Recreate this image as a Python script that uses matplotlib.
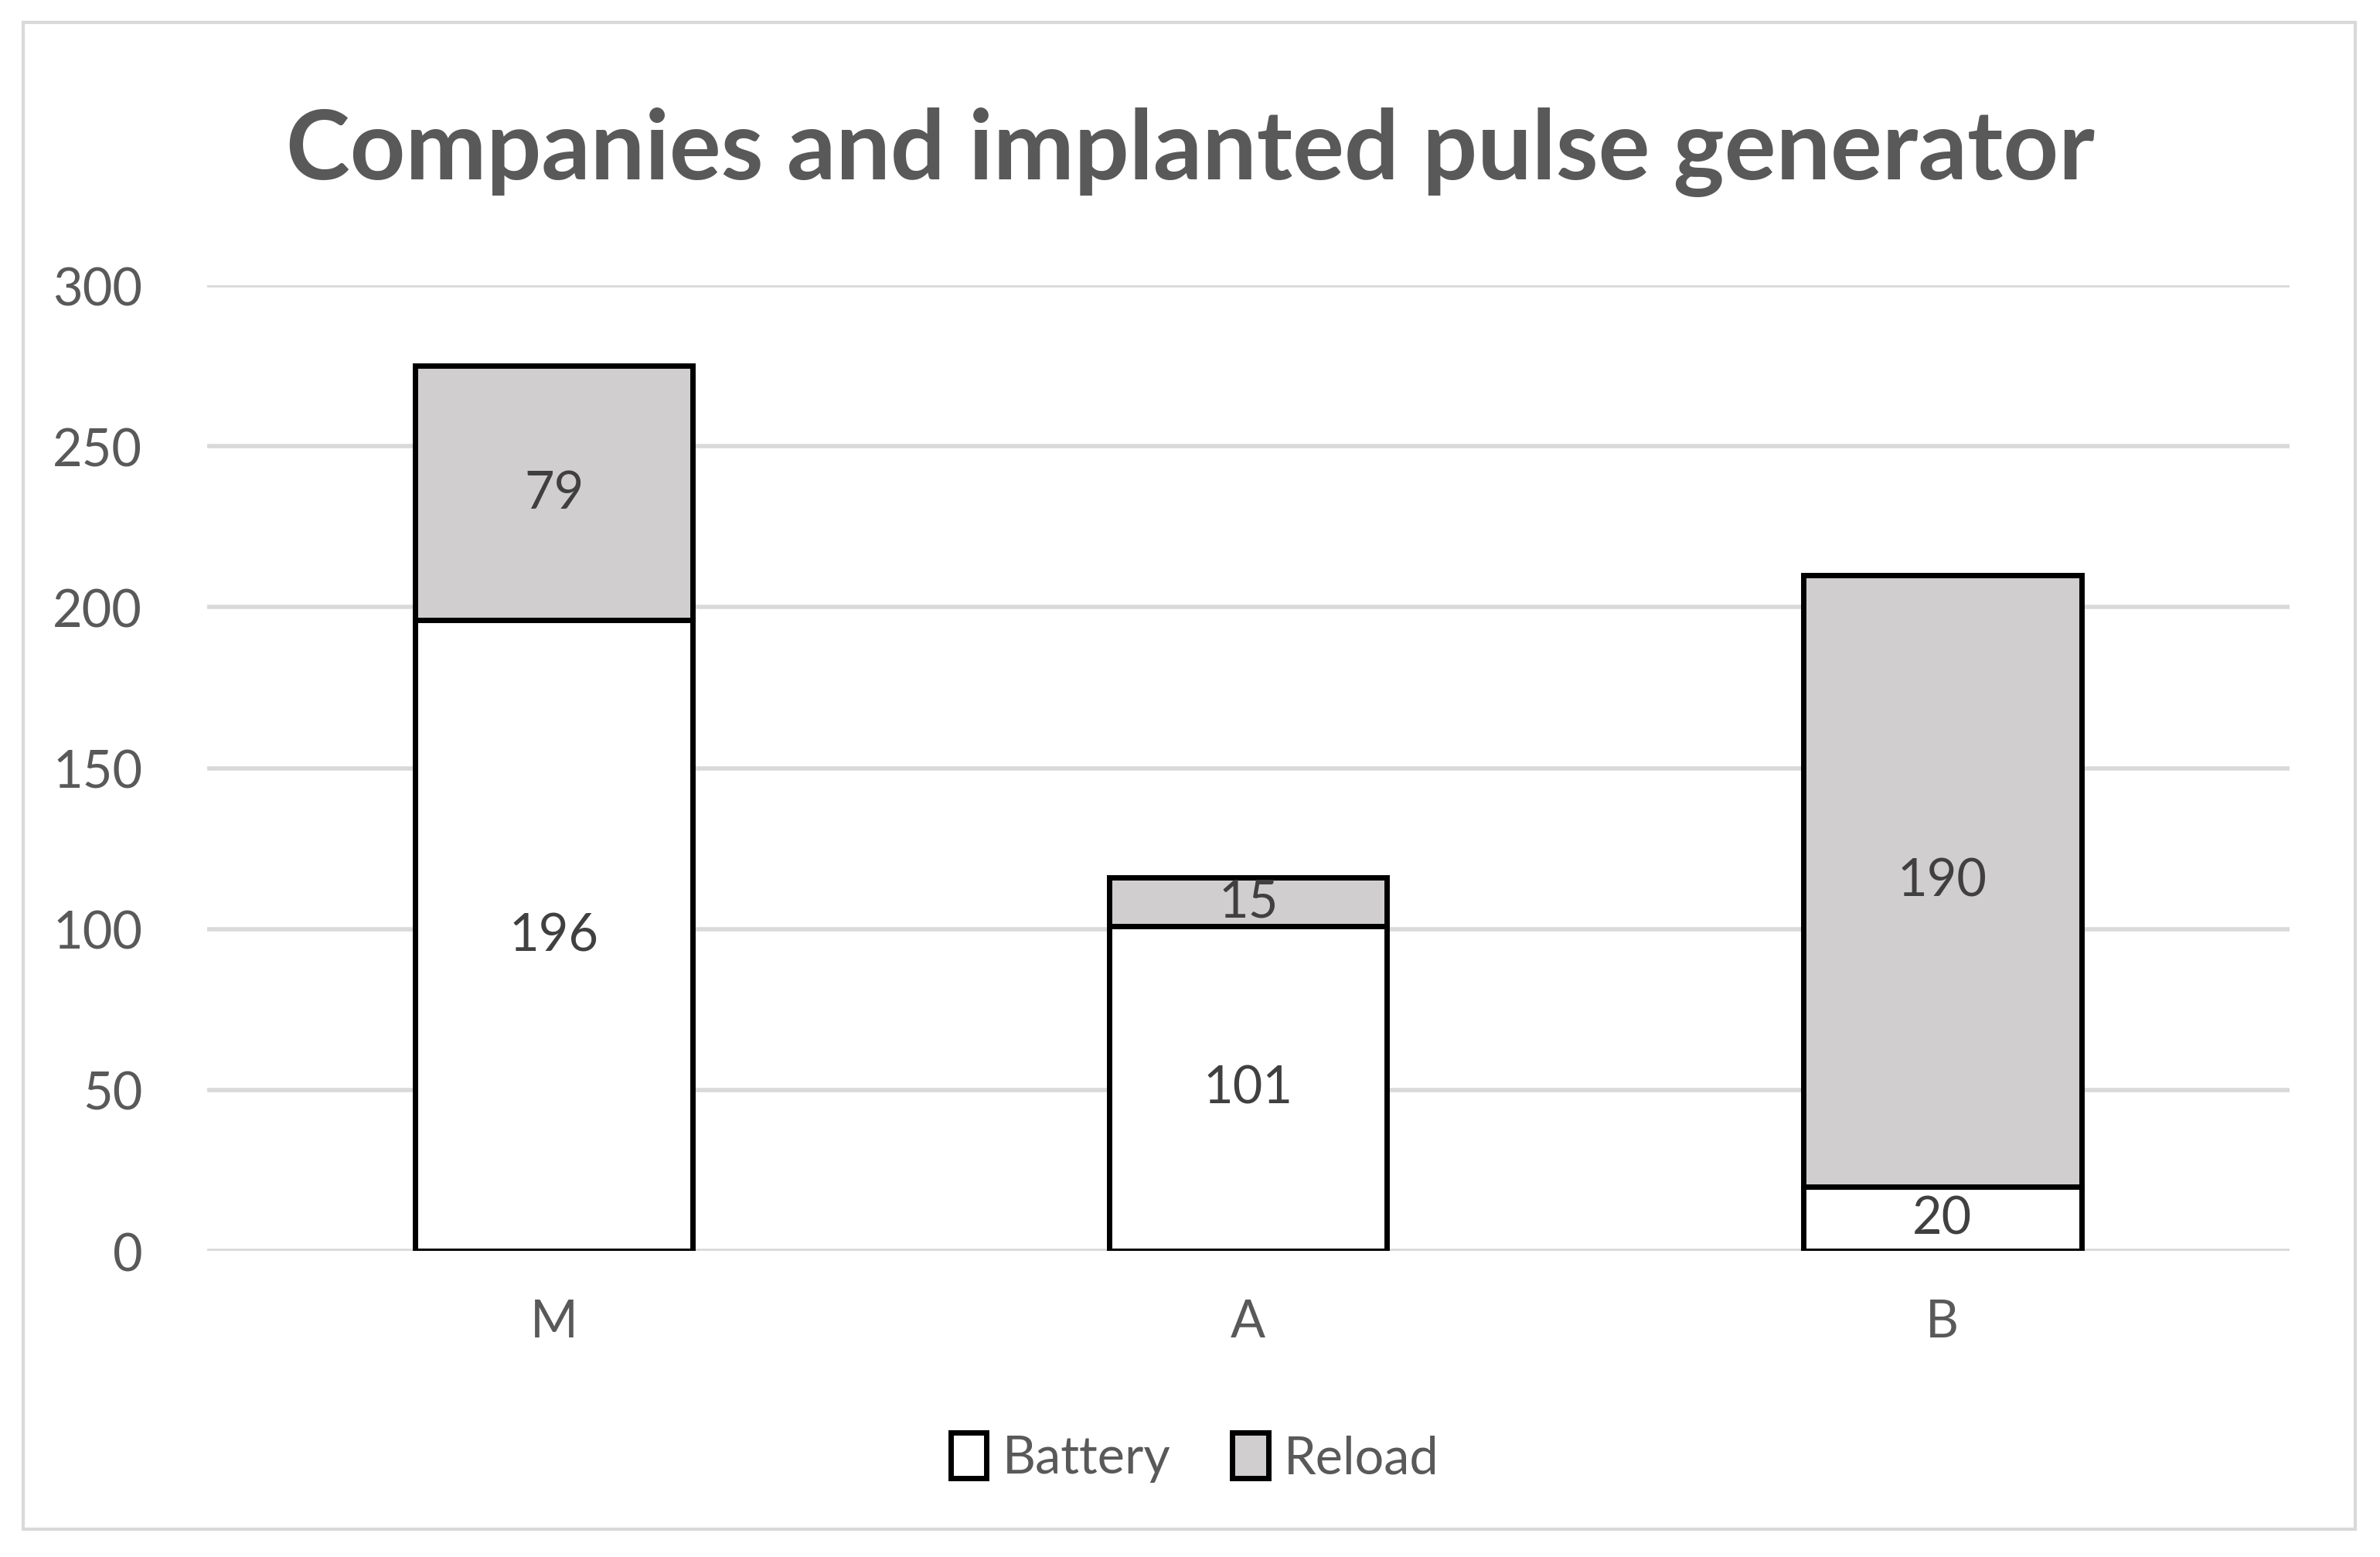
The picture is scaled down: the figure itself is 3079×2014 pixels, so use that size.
import matplotlib.pyplot as plt
from matplotlib.patches import Rectangle

plt.rcParams['font.family'] = ['Lato', 'DejaVu Sans']

companies = ['M', 'A', 'B']
battery = [196, 101, 20]
reload_ = [79, 15, 190]
y_ticks = [0, 50, 100, 150, 200, 250, 300]

text_grey = '#595959'
label_grey = '#404040'

fig = plt.figure(figsize=(15.395, 10.075), dpi=200)
ax = fig.add_axes([0.0869, 0.1965, 0.8751, 0.6198])

# outer chart border
fig.patches.append(Rectangle((0.0097, 0.0177), 0.98, 0.9673, transform=fig.transFigure,
                             fill=False, edgecolor='#d9d9d9', linewidth=1.5))

x = range(len(companies))
b1 = ax.bar(x, battery, width=0.4, color='white', edgecolor='black', linewidth=2.5,
            label='Battery', zorder=3)
b2 = ax.bar(x, reload_, width=0.4, bottom=battery, color='#d0cece', edgecolor='black',
            linewidth=2.5, label='Reload', zorder=3)

ax.bar_label(b1, label_type='center', fontsize=24, color=label_grey)
ax.bar_label(b2, label_type='center', fontsize=24, color=label_grey)

ax.set_xlim(-0.5, 2.5)
ax.set_ylim(0, 300)
ax.set_yticks(y_ticks)
ax.set_xticks(list(x))
ax.set_xticklabels(companies)
ax.tick_params(axis='both', length=0, labelsize=24, labelcolor=text_grey)
ax.tick_params(axis='y', pad=30)
ax.tick_params(axis='x', pad=22)
ax.grid(axis='y', color='#d9d9d9', linewidth=2.0, zorder=0)
for s in ax.spines.values():
    s.set_visible(False)

fig.text(0.5, 0.902, 'Companies and implanted pulse generator', ha='center', va='center',
         fontsize=45, fontweight='bold', color=text_grey)

fig.legend(loc='center', bbox_to_anchor=(0.502, 0.064), ncol=2, frameon=False,
           fontsize=24, labelcolor=text_grey, handlelength=0.7, handleheight=1.0,
           handletextpad=0.3, columnspacing=1.2)

fig.savefig('out.png', dpi=200)
